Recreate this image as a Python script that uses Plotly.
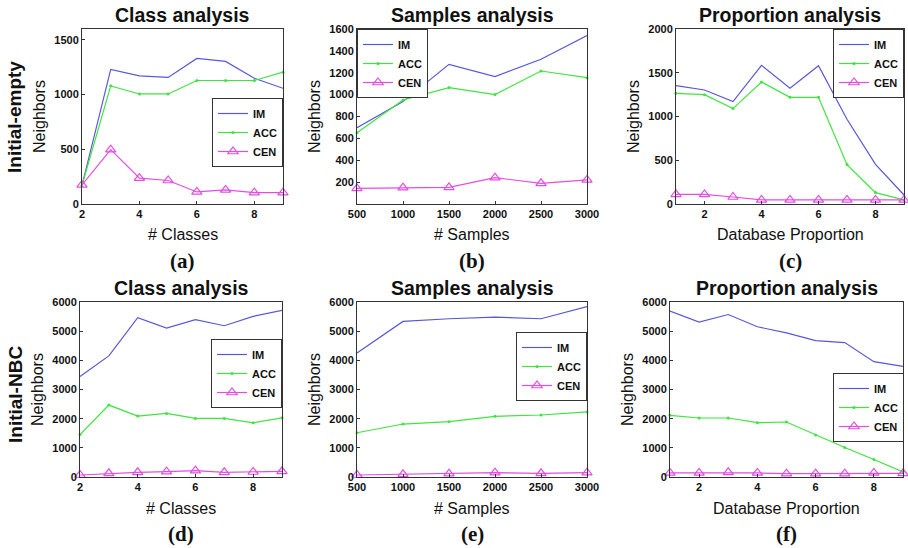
import plotly.graph_objects as go

W, H = 908, 548

# ---------------- data ----------------
classes = [2, 3, 4, 5, 6, 7, 8, 9]
samples = [500, 1000, 1500, 2000, 2500, 3000]
proportion = [1, 2, 3, 4, 5, 6, 7, 8, 9]

# (a) Initial-empty, class analysis
a_im = [170, 1230, 1172, 1157, 1331, 1304, 1150, 1058]
a_acc = [170, 1080, 1006, 1006, 1129, 1129, 1129, 1205]
a_cen = [175, 497, 236, 215, 110, 129, 104, 104]
# (b) Initial-empty, samples analysis
b_im = [698, 936, 1277, 1165, 1323, 1540]
b_acc = [652, 951, 1064, 1000, 1216, 1155]
b_cen = [143, 149, 152, 241, 189, 220]
# (c) Initial-empty, proportion analysis
c_im = [1352, 1303, 1170, 1585, 1322, 1581, 968, 453, 103]
c_acc = [1265, 1250, 1090, 1394, 1219, 1219, 450, 130, 46]
c_cen = [110, 110, 80, 46, 46, 46, 46, 46, 46]
# (d) Initial-NBC, class analysis
d_im = [3442, 4153, 5461, 5105, 5392, 5186, 5507, 5713]
d_acc = [1457, 2466, 2088, 2180, 2008, 2008, 1858, 2030]
d_cen = [69, 126, 160, 183, 218, 160, 172, 195]
# (e) Initial-NBC, samples analysis
e_im = [4253, 5333, 5425, 5483, 5425, 5839]
e_acc = [1517, 1816, 1897, 2080, 2126, 2230]
e_cen = [69, 92, 115, 149, 126, 149]
# (f) Initial-NBC, proportion analysis
f_im = [5690, 5310, 5570, 5150, 4943, 4678, 4609, 3954, 3793]
f_acc = [2115, 2023, 2023, 1862, 1885, 1437, 1011, 598, 172]
f_cen = [138, 138, 161, 138, 115, 115, 115, 138, 126]

series_names = ["IM", "ACC", "CEN"]
titles = ["Class analysis", "Samples analysis", "Proportion analysis"] * 2
xlabels = ["# Classes", "# Samples", "Database Proportion"] * 2
panel_labels = ["(a)", "(b)", "(c)", "(d)", "(e)", "(f)"]
row_labels = ["Initial-empty", "Initial-NBC"]

# ---------------- styling / layout ----------------
C_IM = "#5858da"
C_ACC = "#3fe43f"
C_CEN = "#e24ee2"
AXC = "#333333"

# pixel boxes of each axes: (x0, x1, ytop, ybottom)
boxes = [
    (82, 283, 29, 204),
    (357, 587, 29, 204),
    (676, 904, 29, 204),
    (80, 282, 302, 477),
    (357, 587, 302, 477),
    (670, 903, 302, 477),
]
# legend anchors (side, x, y top)
legend_pos = [
    ("right", 283, 98),
    ("left", 357, 29),
    ("right", 904, 29),
    ("right", 282, 339),
    ("right", 587, 332),
    ("right", 904, 373),
]

panels = [
    (classes, a_im, a_acc, a_cen, [2, 9], [2, 4, 6, 8], [0, 1600], [0, 500, 1000, 1500]),
    (samples, b_im, b_acc, b_cen, [500, 3000], samples, [0, 1600], list(range(200, 1601, 200))),
    (proportion, c_im, c_acc, c_cen, [1, 9], [2, 4, 6, 8], [0, 2000], [0, 500, 1000, 1500, 2000]),
    (classes, d_im, d_acc, d_cen, [2, 9], [2, 4, 6, 8], [0, 6000], list(range(0, 6001, 1000))),
    (samples, e_im, e_acc, e_cen, [500, 3000], samples, [0, 6000], list(range(0, 6001, 1000))),
    (proportion, f_im, f_acc, f_cen, [1, 9], [2, 4, 6, 8], [0, 6000], list(range(0, 6001, 1000))),
]

def px(x):
    return x / W

def py(y):
    return 1 - y / H

fig = go.Figure()
layout = {}
annotations = []

FONT = "Liberation Sans, Arial, sans-serif"
SERIF = "Liberation Serif, Times New Roman, serif"

for i, (xs, im, acc, cen, xr, xt, yr, yt) in enumerate(panels):
    n = i + 1
    xa = "x" if n == 1 else f"x{n}"
    ya = "y" if n == 1 else f"y{n}"
    leg = "legend" if n == 1 else f"legend{n}"
    x0, x1, yt_px, yb_px = boxes[i]

    fig.add_trace(go.Scatter(x=xs, y=im, name=series_names[0], mode="lines",
                             line=dict(color=C_IM, width=1.2), xaxis=xa, yaxis=ya,
                             legend=leg, cliponaxis=False))
    fig.add_trace(go.Scatter(x=xs, y=acc, name=series_names[1], mode="lines+markers",
                             line=dict(color=C_ACC, width=1.2),
                             marker=dict(color=C_ACC, size=3, symbol="circle"),
                             xaxis=xa, yaxis=ya, legend=leg, cliponaxis=False))
    fig.add_trace(go.Scatter(x=xs, y=cen, name=series_names[2], mode="lines+markers",
                             line=dict(color=C_CEN, width=1.2),
                             marker=dict(color=C_CEN, size=9, symbol="triangle-up-open",
                                         line=dict(width=1.2, color=C_CEN)),
                             xaxis=xa, yaxis=ya, legend=leg, cliponaxis=False))

    axis_common = dict(showline=True, mirror=True, linecolor=AXC, linewidth=1,
                       ticks="inside", ticklen=3, tickcolor=AXC, showgrid=False,
                       zeroline=False, automargin=False,
                       tickfont=dict(family=FONT, size=11, color="#111", weight="bold"))
    layout["xaxis" if n == 1 else f"xaxis{n}"] = dict(
        domain=[px(x0), px(x1)], anchor=ya, range=xr, tickvals=xt, **axis_common)
    layout["yaxis" if n == 1 else f"yaxis{n}"] = dict(
        domain=[py(yb_px), py(yt_px)], anchor=xa, range=yr, tickvals=yt,
        title=dict(text="Neighbors", font=dict(family=FONT, size=16, color="#111"), standoff=4),
        **axis_common)

    side, lx, ly = legend_pos[i]
    layout[leg] = dict(
        x=px(lx), y=py(ly), xanchor=side, yanchor="top",
        bgcolor="white", bordercolor=AXC, borderwidth=1,
        font=dict(family=FONT, size=11, color="#111", weight="bold"),
        tracegroupgap=0, itemwidth=30, traceorder="normal")

    cx = (x0 + x1) / 2
    annotations.append(dict(text=titles[i], x=px(cx), y=py(yt_px - 14), xref="paper", yref="paper",
                            showarrow=False, font=dict(family=FONT, size=19.5, color="#111", weight="bold"),
                            xanchor="center", yanchor="middle"))
    annotations.append(dict(text=xlabels[i], x=px(cx), y=py(yb_px + 31), xref="paper", yref="paper",
                            showarrow=False, font=dict(family=FONT, size=16, color="#111"),
                            xanchor="center", yanchor="middle"))
    annotations.append(dict(text=panel_labels[i], x=px(cx), y=py(yb_px + 57), xref="paper", yref="paper",
                            showarrow=False, font=dict(family=SERIF, size=21, color="#111", weight="bold"),
                            xanchor="center", yanchor="middle"))

annotations.append(dict(text=row_labels[0], x=px(15), y=py(117), xref="paper", yref="paper",
                        showarrow=False, textangle=-90,
                        font=dict(family=FONT, size=19, color="#111", weight="bold"),
                        xanchor="center", yanchor="middle"))
annotations.append(dict(text=row_labels[1], x=px(15), y=py(395), xref="paper", yref="paper",
                        showarrow=False, textangle=-90,
                        font=dict(family=FONT, size=19, color="#111", weight="bold"),
                        xanchor="center", yanchor="middle"))

fig.update_layout(
    width=W, height=H,
    margin=dict(l=0, r=0, t=0, b=0),
    paper_bgcolor="white", plot_bgcolor="white",
    annotations=annotations,
    **layout,
)

fig.write_html("out.html", config={"displayModeBar": False},
               post_script="document.body.style.margin='0';document.body.style.overflow='hidden';")
